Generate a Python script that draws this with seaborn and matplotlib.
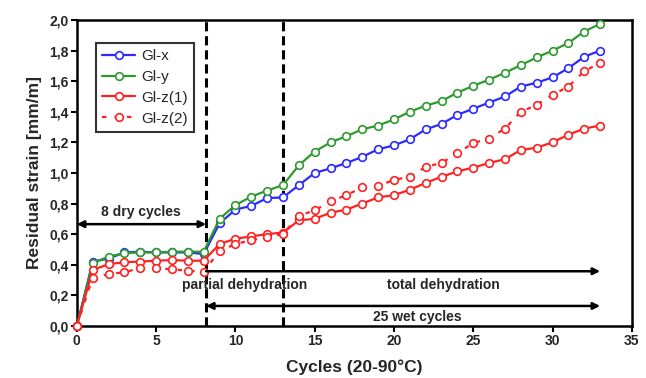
import numpy as np
import pandas as pd
import matplotlib
matplotlib.use("Agg")
import matplotlib.pyplot as plt
import seaborn as sns

# Residual strain per cycle (0 = initial state, 1-8 dry, 9-33 wet)
cycles = list(range(0, 34))
gl_x = [0.0, 0.42, 0.44, 0.48, 0.485, 0.48, 0.48, 0.48, 0.47,
        0.67, 0.76, 0.785, 0.835, 0.84, 0.92, 1.00, 1.03, 1.065, 1.105, 1.155,
        1.18, 1.22, 1.285, 1.32, 1.38, 1.42, 1.46, 1.50, 1.565, 1.59, 1.625,
        1.685, 1.76, 1.80]
gl_y = [0.0, 0.41, 0.453, 0.475, 0.48, 0.48, 0.485, 0.485, 0.485,
        0.70, 0.79, 0.845, 0.885, 0.92, 1.05, 1.14, 1.20, 1.24, 1.285, 1.31,
        1.35, 1.40, 1.44, 1.47, 1.525, 1.57, 1.61, 1.655, 1.705, 1.755, 1.80,
        1.85, 1.925, 1.975]
gl_z1 = [0.0, 0.366, 0.403, 0.416, 0.42, 0.426, 0.43, 0.426, 0.426,
         0.535, 0.57, 0.585, 0.60, 0.61, 0.69, 0.70, 0.74, 0.76, 0.80, 0.84,
         0.855, 0.89, 0.935, 0.975, 1.01, 1.035, 1.065, 1.09, 1.15, 1.165, 1.20,
         1.25, 1.29, 1.31]
gl_z2 = [0.0, 0.316, 0.338, 0.351, 0.377, 0.377, 0.37, 0.36, 0.355,
         0.49, 0.535, 0.56, 0.58, 0.60, 0.72, 0.755, 0.815, 0.855, 0.905, 0.915,
         0.955, 0.975, 1.04, 1.065, 1.13, 1.195, 1.225, 1.29, 1.40, 1.445, 1.51,
         1.565, 1.665, 1.72]

series_names = ["Gl-x", "Gl-y", "Gl-z(1)", "Gl-z(2)"]
series_values = [gl_x, gl_y, gl_z1, gl_z2]
series_colors = ["#2b2bff", "#2e9a2e", "#ff2020", "#ff2020"]
series_styles = ["-", "-", "-", (0, (2.0, 3.6))]

x_ticks = [0, 5, 10, 15, 20, 25, 30, 35]
y_ticks = [0.0, 0.2, 0.4, 0.6, 0.8, 1.0, 1.2, 1.4, 1.6, 1.8, 2.0]

# phase boundaries (cycles)
dry_end = 8.15
partial_end = 13.0
last_cycle = 33.0

df = pd.DataFrame({
    "cycle": np.tile(cycles, len(series_names)),
    "strain": np.concatenate(series_values),
    "series": np.repeat(series_names, len(cycles)),
})

sns.set_style("ticks")
plt.rcParams["font.family"] = ["Liberation Sans", "DejaVu Sans"]

fig = plt.figure(figsize=(6.46, 3.78), dpi=100)
ax = fig.add_axes([0.119, 0.138, 0.859, 0.809])

for name, color, ls in zip(series_names, series_colors, series_styles):
    sub = df[df["series"] == name]
    sns.lineplot(data=sub, x="cycle", y="strain", ax=ax, color=color,
                 linestyle=ls, linewidth=1.6, marker="o", markersize=5.5,
                 markerfacecolor="white", markeredgecolor=color,
                 markeredgewidth=1.2, label=name, clip_on=False, zorder=3)

# phase boundaries
for xv in (dry_end, partial_end):
    ax.axvline(xv, color="black", linestyle=(0, (3, 1.6)), linewidth=2.2, zorder=2)

arrow_kw = dict(color="black", lw=1.8, shrinkA=0, shrinkB=0,
                mutation_scale=10)

# 8 dry cycles
ax.annotate("", xy=(dry_end, 0.665), xytext=(0, 0.665),
            arrowprops=dict(arrowstyle="<|-|>", **arrow_kw))
ax.text(4.05, 0.70, "8 dry cycles", ha="center", va="bottom",
        fontsize=10, fontweight="bold")

# dehydration phases
ax.annotate("", xy=(last_cycle, 0.357), xytext=(dry_end, 0.357),
            arrowprops=dict(arrowstyle="-|>", **arrow_kw))
ax.plot([dry_end, dry_end], [0.33, 0.385], color="black", lw=1.8)
ax.text(10.55, 0.268, "partial dehydration", ha="center", va="center",
        fontsize=10, fontweight="bold")
ax.text(23.1, 0.268, "total dehydration", ha="center", va="center",
        fontsize=10, fontweight="bold")

# 25 wet cycles
ax.annotate("", xy=(last_cycle, 0.13), xytext=(dry_end, 0.13),
            arrowprops=dict(arrowstyle="<|-|>", **arrow_kw))
ax.text(21.5, 0.057, "25 wet cycles", ha="center", va="center",
        fontsize=10, fontweight="bold")

ax.set_xlim(0, 35)
ax.set_ylim(0, 2.0)
ax.set_xticks(x_ticks)
ax.set_xticklabels([str(t) for t in x_ticks])
ax.set_yticks(y_ticks)
ax.set_yticklabels([f"{t:.1f}".replace(".", ",") for t in y_ticks])
ax.tick_params(axis="both", direction="out", length=4, width=1.5,
               labelsize=10, color="black", pad=2)
for lab in ax.get_xticklabels() + ax.get_yticklabels():
    lab.set_fontweight("bold")

for side in ("left", "right", "top", "bottom"):
    ax.spines[side].set_visible(True)
    ax.spines[side].set_linewidth(1.8)
    ax.spines[side].set_color("black")

ax.set_xlabel("Cycles (20-90°C)", fontsize=12.5, fontweight="bold", labelpad=8)
ax.set_ylabel("Residual strain [mm/m]", fontsize=12.5, fontweight="bold", labelpad=5)

leg = ax.legend(loc="upper left", bbox_to_anchor=(0.034, 0.925),
                fontsize=11, frameon=True, fancybox=False, handlelength=2.2,
                handletextpad=0.4, borderpad=0.4, labelspacing=0.45,
                borderaxespad=0)
leg.get_frame().set_edgecolor("black")
leg.get_frame().set_linewidth(1.5)

fig.savefig("out.png", dpi=100)
